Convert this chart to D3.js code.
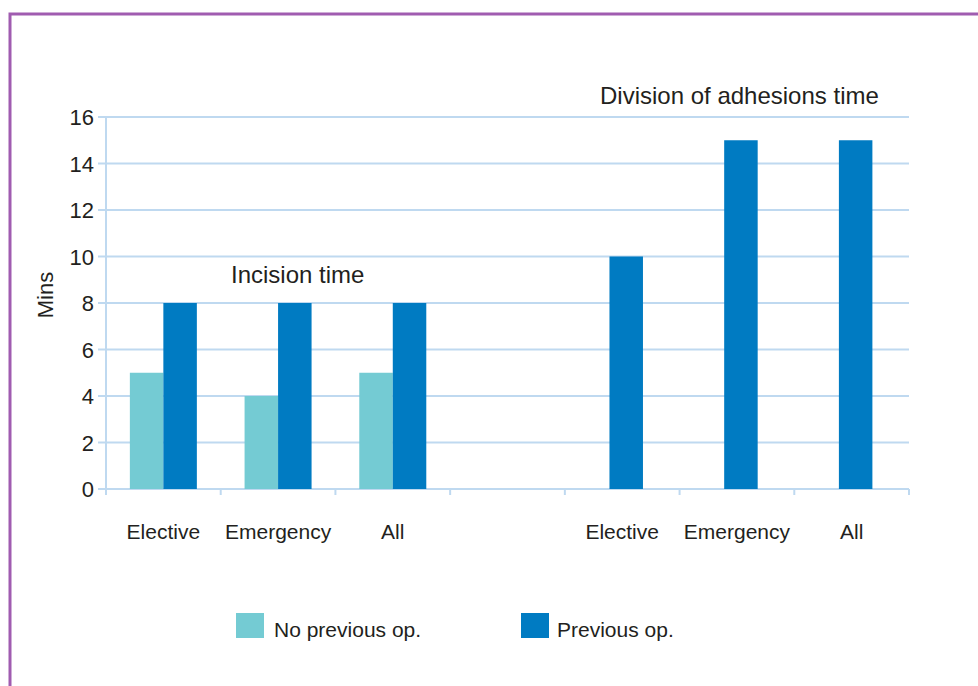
<!DOCTYPE html>
<html>
<head>
<meta charset="utf-8">
<script src="https://cdn.jsdelivr.net/npm/d3@7"></script>
<style>
  body { margin: 0; background: #fff; }
  text { font-family: "Liberation Sans", Arial, sans-serif; fill: #231f20; }
</style>
</head>
<body>
<svg width="978" height="686"></svg>
<script>
// slots along the x axis; the blank one separates the two panels
const slots = ["e1", "m1", "a1", "gap", "e2", "m2", "a2"];
const slotLabels = ["Elective", "Emergency", "All", "", "Elective", "Emergency", "All"];
const noPrevious = [5, 4, 5, null, null, null, null];
const previous = [8, 8, 8, null, 10, 15, 15];
const yTicks = [0, 2, 4, 6, 8, 10, 12, 14, 16];
const seriesNames = ["No previous op.", "Previous op."];
const colors = ["#74cbd3", "#007bc2"];

var svg = d3.select("svg");

// purple frame
svg.append("path")
    .attr("d", "M10,686 V14 H978")
    .attr("fill", "none")
    .attr("stroke", "#a05cb0")
    .attr("stroke-width", 3);

const plotL = 106, plotR = 909, plotT = 117, plotB = 489;

var x = d3.scaleBand().domain(slots).range([plotL, plotR]);
var y = d3.scaleLinear().domain([0, 16]).range([plotB, plotT]);

const gridColor = "#bfd9f0";

// gridlines
svg.append("g")
    .selectAll("line")
    .data(yTicks)
    .enter().append("line")
    .attr("x1", plotL - 8).attr("x2", plotR)
    .attr("y1", d => y(d)).attr("y2", d => y(d))
    .attr("stroke", gridColor)
    .attr("stroke-width", 2);

// y axis line
svg.append("line")
    .attr("x1", plotL).attr("x2", plotL)
    .attr("y1", plotT).attr("y2", plotB + 6)
    .attr("stroke", gridColor).attr("stroke-width", 2);

// x ticks between slots
const edges = slots.map(s => x(s)).concat([plotR]);
svg.append("g")
    .selectAll("line")
    .data(edges)
    .enter().append("line")
    .attr("x1", d => d).attr("x2", d => d)
    .attr("y1", plotB).attr("y2", plotB + 6)
    .attr("stroke", gridColor).attr("stroke-width", 2);

// y tick labels
svg.append("g")
    .selectAll("text")
    .data(yTicks)
    .enter().append("text")
    .attr("x", plotL - 12)
    .attr("y", d => y(d) + 8)
    .attr("text-anchor", "end")
    .attr("font-size", 22)
    .text(d => d);

// x labels
svg.append("g")
    .selectAll("text")
    .data(slots)
    .enter().append("text")
    .attr("x", d => x(d) + x.bandwidth() / 2)
    .attr("y", 539)
    .attr("text-anchor", "middle")
    .attr("font-size", 21)
    .text((d, i) => slotLabels[i]);

// bars
const barW = 33.5;
const bars = [];
slots.forEach((s, i) => {
    const c = x(s) + x.bandwidth() / 2;
    if (noPrevious[i] != null && previous[i] != null) {
        bars.push({ x: c - barW, v: noPrevious[i], k: 0 });
        bars.push({ x: c, v: previous[i], k: 1 });
    } else if (previous[i] != null) {
        bars.push({ x: c - barW / 2 + 4, v: previous[i], k: 1 });
    }
});

svg.append("g")
    .selectAll("rect")
    .data(bars)
    .enter().append("rect")
    .attr("x", d => d.x)
    .attr("width", barW)
    .attr("y", d => y(d.v))
    .attr("height", d => plotB - y(d.v))
    .attr("fill", d => colors[d.k]);

// panel titles
svg.append("text")
    .attr("x", 231).attr("y", 283)
    .attr("font-size", 24)
    .text("Incision time");
svg.append("text")
    .attr("x", 600).attr("y", 104)
    .attr("font-size", 24)
    .text("Division of adhesions time");

// y axis title
svg.append("text")
    .attr("transform", "translate(53,295) rotate(-90)")
    .attr("text-anchor", "middle")
    .attr("font-size", 22)
    .text("Mins");

// legend
const legendX = [236, 521];
const legendTextDx = [38, 36];
var legend = svg.append("g")
    .selectAll("g")
    .data(seriesNames)
    .enter().append("g")
    .attr("transform", (d, i) => `translate(${legendX[i]},613)`);
legend.append("rect")
    .attr("width", 28).attr("height", 25)
    .attr("fill", (d, i) => colors[i]);
legend.append("text")
    .attr("x", (d, i) => legendTextDx[i]).attr("y", 24)
    .attr("font-size", 21)
    .text(d => d);
</script>
</body>
</html>
